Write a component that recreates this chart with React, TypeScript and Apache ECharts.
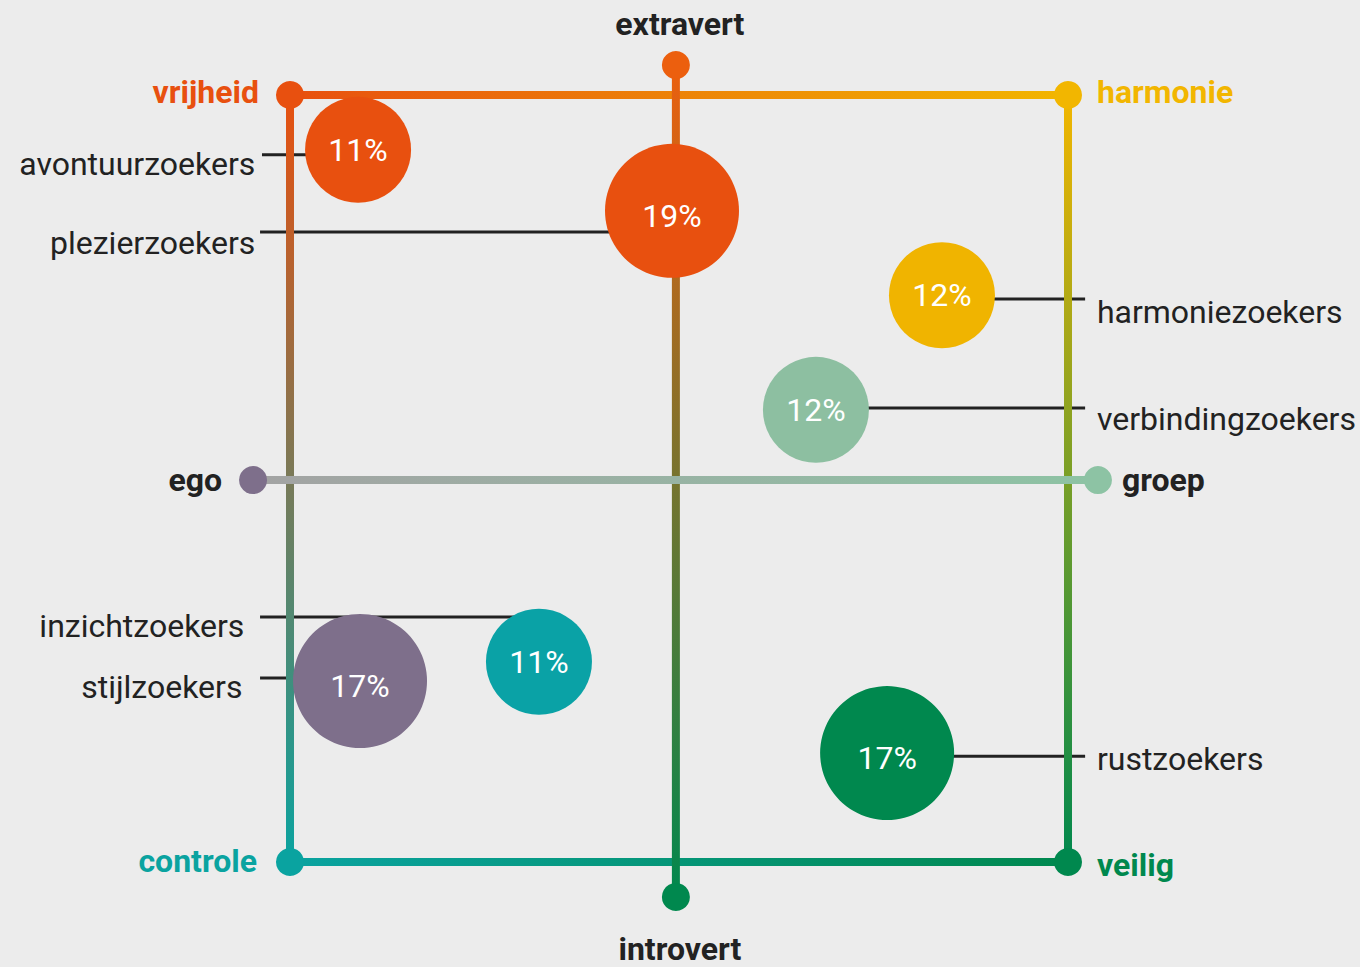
import React, { useEffect, useRef } from "react";
import * as echarts from "echarts";

// Segments (bubbles)
const segments = [
  "avontuurzoekers",
  "plezierzoekers",
  "harmoniezoekers",
  "verbindingzoekers",
  "inzichtzoekers",
  "stijlzoekers",
  "rustzoekers",
];
const shares = [11, 19, 12, 12, 11, 17, 17];
const posX = [-82.5, -1.8, 67.6, 35.2, -36, -82, 53.5];
const posY = [85.7, 69.8, 47.8, 17.9, -47.8, -52.8, -71.6];
const bubbleColors = ["#e8500f", "#e8500f", "#f0b400", "#8dbfa1", "#0aa2a6", "#7e6f8b", "#00884e"];

// Poles (dimension ends)
const poles = ["vrijheid", "harmonie", "controle", "veilig", "extravert", "introvert", "ego", "groep"];
const poleX = [-100, 100, -100, 100, -0.8, -0.8, -109.5, 107.7];
const poleY = [100, 100, -100, -100, 107.8, -109.1, -0.4, -0.4];
const poleColors = ["#e8500f", "#f2b600", "#0aa3a0", "#00884e", "#ec5f0e", "#00884e", "#7e6f8b", "#8dc3a4"];

// Leader lines from segment labels
const leaderY = [84.4, 64.3, 46.8, 18.4, -36.1, -52, -72.4];
const leaderOuterX = [-107.2, -107.7, 104.4, 104.4, -107.7, -107.7, 104.4];
const labelX = [-108.8, -108.8, 107.3, 107.3, -111.6, -112.1, 107.3];
const labelDy = [9, 11, 13, 11, 9, 9, 3];

const FONT = "Roboto";
const TEXT = "#222222";

const frameLines: [number, number, string?, string?][] = [
  [0, 1],
  [0, 2],
  [1, 3],
  [2, 3],
  [4, 5],
  [6, 7, "#a3a3a3", "#8dc3a4"],
];

const poleLabel = [
  { position: "left", distance: 17, color: "#e8500f", offset: [0, -3] },
  { position: "right", distance: 15, color: "#f2b600", offset: [0, -3] },
  { position: "left", distance: 19, color: "#0aa3a0", offset: [0, -1] },
  { position: "right", distance: 15, color: "#00884e", offset: [0, 3] },
  { position: "top", distance: 11, color: TEXT, offset: [4, 0] },
  { position: "bottom", distance: 22, color: TEXT, offset: [4, 0] },
  { position: "left", distance: 17, color: TEXT, offset: [0, 0] },
  { position: "right", distance: 10, color: TEXT, offset: [0, 0] },
];

// axis extents wide enough that every mark lies inside the grid
const X_MIN = -170;
const X_MAX = 170;
const Y_MIN = -120;
const Y_MAX = 120;

function buildOption(toPx?: (p: number[]) => number[]) {
  const grad = (a: number[], b: number[], c0: string, c1: string): any => {
    if (!toPx) return c0;
    const p0 = toPx(a);
    const p1 = toPx(b);
    return new echarts.graphic.LinearGradient(
      p0[0],
      p0[1],
      p1[0],
      p1[1],
      [
        { offset: 0, color: c0 },
        { offset: 1, color: c1 },
      ],
      true
    );
  };

  const series: any[] = [];

  // leader lines
  segments.forEach((s, i) => {
    series.push({
      type: "line",
      silent: true,
      clip: false,
      z: 1,
      showSymbol: false,
      symbol: "none",
      data: [
        [leaderOuterX[i], leaderY[i]],
        [posX[i], leaderY[i]],
      ],
      lineStyle: { color: TEXT, width: 3 },
    });
  });

  // frame & axes
  frameLines.forEach(([a, b, c0, c1]) => {
    const pa = [poleX[a], poleY[a]];
    const pb = [poleX[b], poleY[b]];
    series.push({
      type: "line",
      silent: true,
      clip: false,
      z: 2,
      showSymbol: false,
      symbol: "none",
      data: [pa, pb],
      lineStyle: { width: 8, color: grad(pa, pb, c0 || poleColors[a], c1 || poleColors[b]) },
    });
  });

  // pole dots
  series.push({
    type: "scatter",
    silent: true,
    clip: false,
    z: 4,
    symbolSize: 28,
    data: poles.map((p, i) => ({
      name: p,
      value: [poleX[i], poleY[i]],
      itemStyle: { color: poleColors[i], opacity: 1 },
      label: {
        show: true,
        formatter: p,
        position: poleLabel[i].position,
        distance: poleLabel[i].distance,
        offset: poleLabel[i].offset,
        color: poleLabel[i].color,
        fontFamily: FONT,
        fontWeight: "bold",
        fontSize: 32,
      },
    })),
  });

  // bubbles
  const big = (v: number) => v >= 15;
  series.push({
    type: "scatter",
    silent: true,
    clip: false,
    z: 5,
    symbolSize: (v: number[]) => (big(v[2]) ? 134 : 106),
    data: segments.map((s, i) => ({
      name: s,
      value: [posX[i], posY[i], shares[i]],
      itemStyle: { color: bubbleColors[i], opacity: 1 },
      label: { offset: [0, big(shares[i]) ? 5 : 0] },
    })),
    label: {
      show: true,
      position: "inside",
      formatter: (p: any) => p.value[2] + "%",
      color: "#ffffff",
      fontFamily: FONT,
      fontSize: 32,
    },
  });

  // segment labels
  series.push({
    type: "scatter",
    silent: true,
    clip: false,
    z: 6,
    symbolSize: 1,
    itemStyle: { color: "rgba(0,0,0,0)", opacity: 1 },
    data: segments.map((s, i) => ({
      name: s,
      value: [labelX[i], leaderY[i]],
      label: {
        show: true,
        formatter: s,
        position: labelX[i] < 0 ? "left" : "right",
        distance: 0,
        offset: [0, labelDy[i]],
        color: TEXT,
        fontFamily: FONT,
        fontSize: 32,
      },
    })),
  });

  // grid placed so that x = ±100 → 290 / 1068 px and y = ±100 → 95 / 862 px
  const pxPerX = 778 / 200;
  const pxPerY = 767 / 200;
  const cx = 679;
  const cy = 478.5;
  return {
    animation: false,
    backgroundColor: "#ececec",
    grid: {
      left: cx + X_MIN * pxPerX,
      right: 1360 - (cx + X_MAX * pxPerX),
      top: cy - Y_MAX * pxPerY,
      bottom: 967 - (cy - Y_MIN * pxPerY),
      containLabel: false,
    },
    xAxis: { type: "value", min: X_MIN, max: X_MAX, show: false },
    yAxis: { type: "value", min: Y_MIN, max: Y_MAX, show: false },
    tooltip: { show: false },
    series,
  };
}

export default function App() {
  const ref = useRef<HTMLDivElement>(null);
  useEffect(() => {
    if (!ref.current) return;
    const chart = echarts.init(ref.current, null, { renderer: "svg" });
    chart.setOption(buildOption());
    const toPx = (p: number[]) => chart.convertToPixel({ gridIndex: 0 }, p) as number[];
    chart.setOption(buildOption(toPx), true);
    return () => chart.dispose();
  }, []);
  return (
    <div
      ref={ref}
      style={{ position: "absolute", left: 0, top: 0, width: 1360, height: 967, background: "#ececec" }}
    />
  );
}
